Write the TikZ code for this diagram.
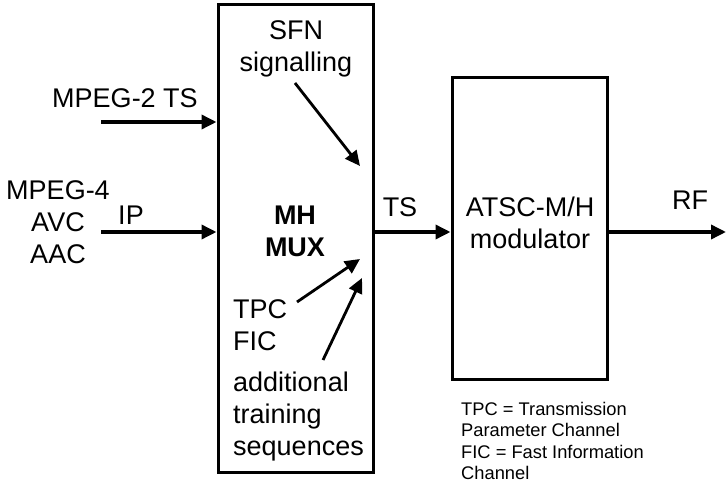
\documentclass[tikz,border=0pt]{standalone}
\usepackage{fontspec}
\setmainfont{Liberation Sans}
\usetikzlibrary{arrows.meta}
\begin{document}
\begin{tikzpicture}[x=1pt,y=-1pt,
  blk/.style={draw,line width=3pt,inner sep=0pt},
  lbl/.style={font=\fontsize{27}{32}\selectfont,inner sep=0pt,align=center},
  note/.style={font=\fontsize{18.3}{21.4}\selectfont,inner sep=0pt,align=left},
  arr/.style={line width=3.5pt,-{Triangle[length=15pt,width=14pt]}}]
\useasboundingbox (0,0) rectangle (726,486);
\node[blk,minimum width=155pt,minimum height=467pt] (mux) at (295.5,238.5) {};
\node[blk,minimum width=155pt,minimum height=302pt] (mod) at (529.5,229) {};
% texts
\node[lbl] (sfn) at (296,49) {SFN\\signalling};
\node[lbl] (m2) at (125,98) {MPEG-2 TS};
\node[lbl] (m4) at (58,222) {MPEG-4\\AVC\\AAC};
\node[lbl] (ip) at (131,215) {IP};
\node[lbl,font=\fontsize{27}{32}\selectfont\bfseries] (mh) at (295,231) {MH\\MUX};
\node[lbl,align=left,anchor=north west] (tpc) at (233,299) {TPC\\FIC};
\node[lbl,align=left,anchor=north west] (add) at (233,372) {additional\\training\\sequences};
\node[lbl] (ts) at (400,207) {TS};
\node[lbl] (atsc) at (530,223) {ATSC-M/H\\modulator};
\node[lbl] (rf) at (690,200) {RF};
\node[note,anchor=north west] (fn) at (461,402) {TPC = Transmission\\Parameter Channel\\FIC = Fast Information\\Channel};
% connectors
\coordinate (m2s) at (101,122);
\coordinate (ips) at (101,232);
\coordinate (rfe) at (726,232);
\coordinate (sfns) at (295,83);
\coordinate (sfne) at (360,166);
\coordinate (tpcs) at (297,302);
\coordinate (tpce) at (360,259);
\coordinate (adds) at (323,360);
\coordinate (adde) at (362,278);
\draw[arr] (m2s) -- (m2s -| mux.west);
\draw[arr] (ips) -- (ips -| mux.west);
\draw[arr] (ips -| mux.east) -- (ips -| mod.west);
\draw[arr] (ips -| mod.east) -- (rfe);
\draw[arr,line width=2.8pt] (sfns) -- (sfne);
\draw[arr,line width=2.8pt] (tpcs) -- (tpce);
\draw[arr,line width=2.8pt] (adds) -- (adde);
\end{tikzpicture}
\end{document}
